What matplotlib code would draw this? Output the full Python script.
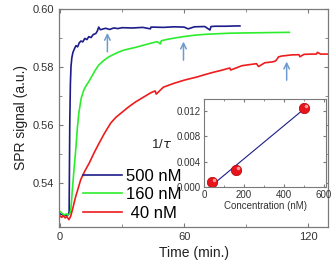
import numpy as np
import matplotlib.pyplot as plt

plt.rcParams['font.family'] = ['Liberation Sans', 'DejaVu Sans']

# --- data ---
blue_t = [0, 1, 2, 3, 4, 4.4, 4.7, 5.0, 5.3, 5.7, 6.2, 7.0, 7.7, 8.5, 9.3, 10.1, 11.0, 12.0,
          13.0, 13.9, 15.0, 16.0, 17.3, 18.0, 18.7, 19.5, 20.6, 22, 24, 26, 28, 30, 35, 40,
          43.7, 44, 45, 50, 55, 60, 62, 65, 70, 72.5, 73, 75, 80, 85, 87]
blue_y = [0.5292, 0.5290, 0.5285, 0.5288, 0.5289, 0.5300, 0.5600, 0.5740, 0.5800, 0.5830,
          0.5848, 0.5862, 0.5872, 0.5868, 0.5882, 0.5888, 0.5885, 0.5897, 0.5893, 0.5903,
          0.5900, 0.5910, 0.5914, 0.5922, 0.5936, 0.5927, 0.5929, 0.5932, 0.5928, 0.5933,
          0.5931, 0.5934, 0.5933, 0.5935, 0.5930, 0.5936, 0.5936, 0.5935, 0.5937, 0.5936,
          0.5930, 0.5937, 0.5938, 0.5926, 0.5938, 0.5939, 0.5939, 0.5940, 0.5940]

green_t = [0, 1, 2, 3, 4, 5.0, 5.5, 6.0, 6.7, 7.7, 8.4, 9.1, 10.2, 11.5, 12.7, 13.9, 15.5,
           17, 18.7, 21, 23, 25.4, 28, 31, 34, 36.5, 40, 43.7, 47, 48.5, 49, 52, 56, 59.5,
           65, 70, 76, 82, 90, 100, 110.9]
green_y = [0.5300, 0.5294, 0.5288, 0.5292, 0.5289, 0.5295, 0.5330, 0.5380, 0.5440, 0.5522,
           0.5590, 0.5640, 0.5690, 0.5719, 0.5735, 0.5748, 0.5768, 0.5787, 0.5805, 0.5820,
           0.5831, 0.5840, 0.5849, 0.5857, 0.5862, 0.5866, 0.5873, 0.5880, 0.5886, 0.5878,
           0.5889, 0.5894, 0.5899, 0.5903, 0.5908, 0.5911, 0.5913, 0.5915, 0.5916, 0.5917,
           0.5918]

red_t = [0, 0.8, 1.5, 2.5, 3.3, 4.3, 5.2, 6.2, 7.3, 8.5, 10, 12, 14.1, 16.5, 18.9, 21.5,
         24.5, 27, 30.1, 33, 36.5, 40, 44, 46, 46.5, 50, 55, 60, 66.2, 70, 74, 78, 82.1,
         82.5, 88, 92, 95, 96, 99, 102.7, 104.2, 105.0, 105.6, 107, 111.8, 115.5, 116,
         118, 122, 124, 124.5, 126, 129.5]
red_y = [0.5285, 0.5280, 0.5286, 0.5278, 0.5283, 0.5272, 0.5285, 0.5312, 0.5345, 0.5374,
         0.5410, 0.5440, 0.5467, 0.5503, 0.5536, 0.5570, 0.5605, 0.5625, 0.5643, 0.5660,
         0.5678, 0.5693, 0.5710, 0.5716, 0.5705, 0.5729, 0.5742, 0.5753, 0.5764, 0.5772,
         0.5780, 0.5787, 0.5795, 0.5788, 0.5803, 0.5807, 0.5810, 0.5800, 0.5813, 0.5816,
         0.5819, 0.5826, 0.5833, 0.5836, 0.5840, 0.5841, 0.5834, 0.5842, 0.5843, 0.5843,
         0.5849, 0.5843, 0.5843]

labels = ['500 nM', '160 nM', ' 40 nM']

# arrows: (x, tail y, tip y)
arrow_x = [22.9, 59.7, 109.6]
arrow_tail = [0.5851, 0.5822, 0.5753]
arrow_tip = [0.5916, 0.5886, 0.5817]

# inset: rate vs concentration
conc = [40, 160, 500]
rate = [0.0008, 0.0027, 0.0125]

BLUE = '#1c1c8a'
GREEN = '#2ced2c'
RED = '#ee1c1c'
ARROW = '#6d9bcf'
SPINE = '#7a7a7a'

fig = plt.figure(figsize=(3.33, 2.67), dpi=100)
ax = fig.add_axes([0.1772, 0.150, 0.8078, 0.818])

ax.plot(blue_t, blue_y, color=BLUE, lw=1.2, label=labels[0])
ax.plot(green_t, green_y, color=GREEN, lw=1.2, label=labels[1])
ax.plot(red_t, red_y, color=RED, lw=1.2, label=labels[2])

for x, y0, y1 in zip(arrow_x, arrow_tail, arrow_tip):
    ax.annotate('', xy=(x, y1), xytext=(x, y0),
                arrowprops=dict(arrowstyle='->', color=ARROW, lw=1.1,
                                mutation_scale=10, shrinkA=0, shrinkB=0))

ax.set_xlim(-0.5, 129.6)
ax.set_ylim(0.5247, 0.600)
ax.set_xticks([0, 60, 120])
ax.set_xticks([30, 90], minor=True)
ax.set_yticks([0.54, 0.56, 0.58, 0.60])
ax.set_yticks([0.55, 0.57, 0.59], minor=True)
ax.set_yticklabels(['0.54', '0.56', '0.58', '0.60'])
ax.tick_params(which='both', direction='in', top=True, right=True,
               color=SPINE, labelsize=8, labelcolor='#333333')
ax.tick_params(which='major', length=3)
ax.tick_params(which='minor', length=2)
for s in ax.spines.values():
    s.set_color(SPINE)
    s.set_linewidth(0.9)
ax.set_xlabel('Time (min.)', fontsize=10, color='#222222', labelpad=3)
ax.set_ylabel('SPR signal (a.u.)', fontsize=10, color='#222222', labelpad=3)

ax.legend(loc='upper left', bbox_to_anchor=(0.09, 0.266), frameon=False,
          fontsize=12, handlelength=2.3, handletextpad=0.25,
          labelspacing=0.2, borderaxespad=0, borderpad=0)

# inset
ins = fig.add_axes([0.6126, 0.2996, 0.3664, 0.3296])
fit = np.polyfit(conc, rate, 1)
xf = np.array([conc[0], conc[-1]])
ins.plot(xf, np.polyval(fit, xf), color=BLUE, lw=0.8)
ins.plot(conc, rate, 'o', ms=7.5, color='#e8141c', mec='#b00000', mew=0.5)
ins.plot(np.array(conc) + 8, np.array(rate) + 0.00035, 'o', ms=2.5,
         color='#ff9a9a', mec='none')
ins.set_xlim(0, 610)
ins.set_ylim(0, 0.0139)
ins.set_xticks([0, 200, 400, 600])
ins.set_xticks([100, 300, 500], minor=True)
ins.set_yticks([0.0, 0.004, 0.008, 0.012])
ins.set_yticklabels(['0.000', '0.004', '0.008', '0.012'])
ins.tick_params(which='both', direction='in', top=True, right=True,
                color=SPINE, labelsize=7, labelcolor='#333333', pad=2)
ins.tick_params(which='major', length=2.5)
ins.tick_params(which='minor', length=1.5)
for s in ins.spines.values():
    s.set_color(SPINE)
    s.set_linewidth(0.8)
ins.set_xlabel('Concentration (nM)', fontsize=7, color='#333333', labelpad=1)
fig.text(162 / 333, 1 - 145 / 267, r'1/$\tau$', fontsize=9.5, ha='center',
         va='center', color='#222222')

fig.savefig('out.png', dpi=100)
